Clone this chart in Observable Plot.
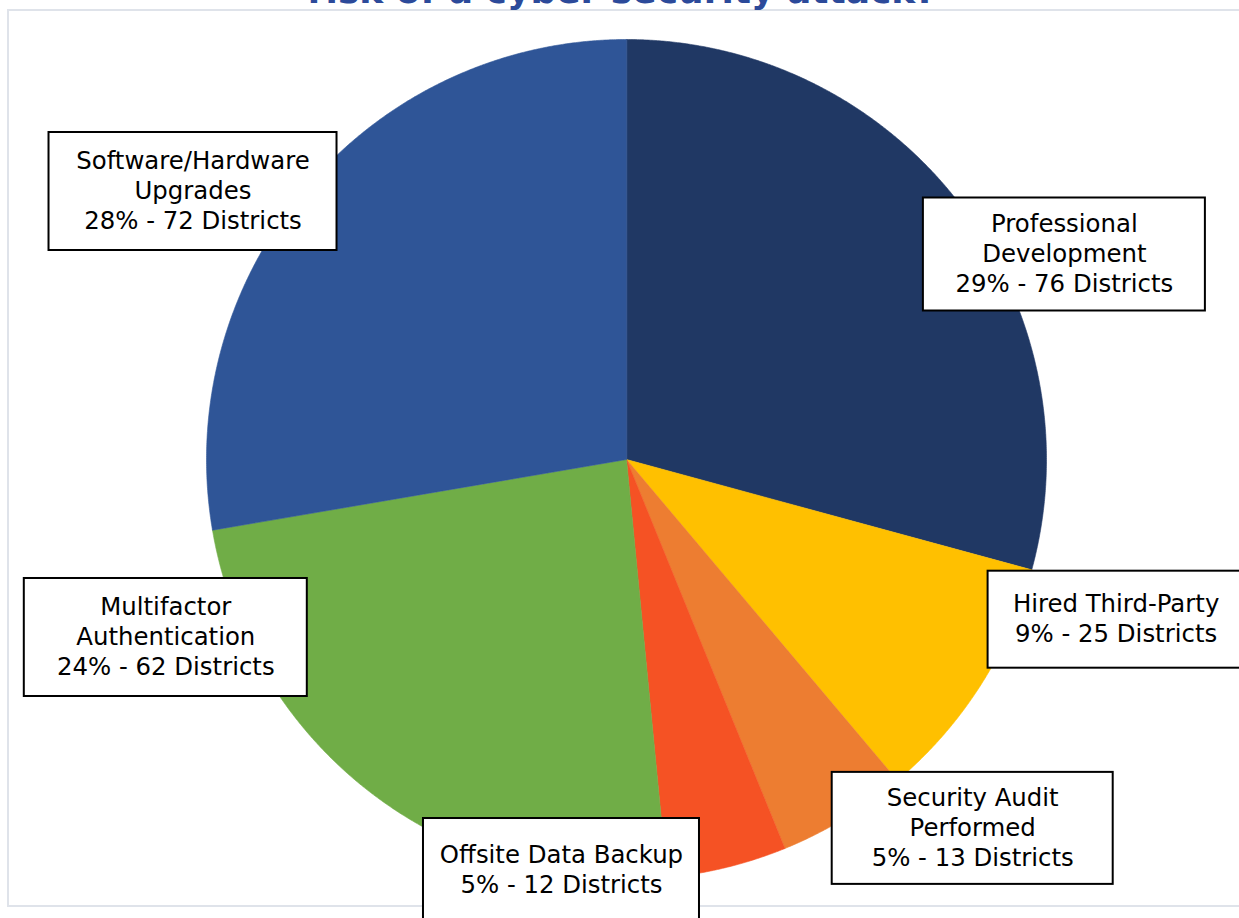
<!DOCTYPE html>
<html><head><meta charset="utf-8">
<script src="https://cdn.jsdelivr.net/npm/d3@7"></script>
<script src="https://cdn.jsdelivr.net/npm/@observablehq/plot@0.6"></script>
<style>
html,body{margin:0;padding:0;background:#fff;width:1239px;height:918px;overflow:hidden;position:relative;font-family:"DejaVu Sans",Verdana,sans-serif}
#frame{position:absolute;left:7px;top:9px;width:1300px;height:898px;border:2px solid #dfe3ea;box-sizing:border-box}
#title{position:absolute;left:0;width:1244px;text-align:center;top:-27px;font:bold 36px "DejaVu Sans",sans-serif;color:#2C4A9A;line-height:36px;white-space:nowrap}
#chart{position:absolute;left:0;top:0}
</style></head><body>
<div id="frame"></div>
<div id="title">risk of a cyber security attack?</div>
<div id="chart"></div>
<script>
// ---- data ----
const categories = ["Professional Development","Hired Third-Party","Security Audit Performed","Offsite Data Backup","Multifactor Authentication","Software/Hardware Upgrades"];
const labelNames = ["Professional\nDevelopment","Hired Third-Party","Security Audit\nPerformed","Offsite Data Backup","Multifactor\nAuthentication","Software/Hardware\nUpgrades"];
const districts = [76, 25, 13, 12, 62, 72];
const percents = [29, 9, 5, 5, 24, 28];
const colors = ["#203864","#FFC000","#ED7D31","#F55224","#70AD47","#2F5597"];

// ---- layout (pie centre / radius in px, label anchors in radius units, box sizes in px) ----
const CX = 626, CY = 459, R = 420;
const labelAnchor = [[1.0426, 0.4881],[1.1657,-0.3814],[0.8243,-0.8783],[-0.1548,-0.9786],[-1.0969,-0.4238],[-1.0321,0.6381]];
const boxW = [282, 256, 281, 276, 283, 288];
const boxH = [113, 97, 112, 104, 118, 118];

const rows = categories.map((name, i) => ({name, label: labelNames[i], districts: districts[i], pct: percents[i],
  lx: labelAnchor[i][0], ly: labelAnchor[i][1], w: boxW[i], h: boxH[i]}));

const arcs = d3.pie().sort(null).value(d => d.districts)(rows);
const slicePts = [];
arcs.forEach(a => {
  const name = a.data.name;
  const n = Math.max(2, Math.ceil((a.endAngle - a.startAngle) / (Math.PI / 720)));
  slicePts.push({name, x: 0, y: 0});
  for (let k = 0; k <= n; k++) {
    const t = a.startAngle + (a.endAngle - a.startAngle) * k / n;
    slicePts.push({name, x: Math.sin(t), y: Math.cos(t)});
  }
});

const W = 1239, H = 918;
const chart = Plot.plot({
  width: W, height: H,
  margin: 0,
  style: {background: "transparent", fontFamily: "'DejaVu Sans', Verdana, sans-serif", overflow: "visible"},
  x: {domain: [-1, 1], range: [CX - R, CX + R], axis: null},
  y: {domain: [-1, 1], range: [CY + R, CY - R], axis: null},
  color: {domain: categories, range: colors},
  marks: [
    Plot.line(slicePts, {x: "x", y: "y", z: "name", fill: "name", stroke: "name", strokeWidth: 0.6, curve: "linear-closed"}),
    Plot.rect(rows, {
      x1: d => d.lx - d.w / 2 / R, x2: d => d.lx + d.w / 2 / R,
      y1: d => d.ly - d.h / 2 / R, y2: d => d.ly + d.h / 2 / R,
      fill: "white", stroke: "black", strokeWidth: 2
    }),
    Plot.text(rows, {
      x: "lx", y: "ly", dy: -2,
      text: d => `${d.label}\n${d.pct}% - ${d.districts} Districts`,
      fontSize: 24.4, lineHeight: 1.23, fill: "black", textAnchor: "middle", lineAnchor: "middle"
    })
  ]
});
document.getElementById("chart").appendChild(chart);
</script>
</body></html>
